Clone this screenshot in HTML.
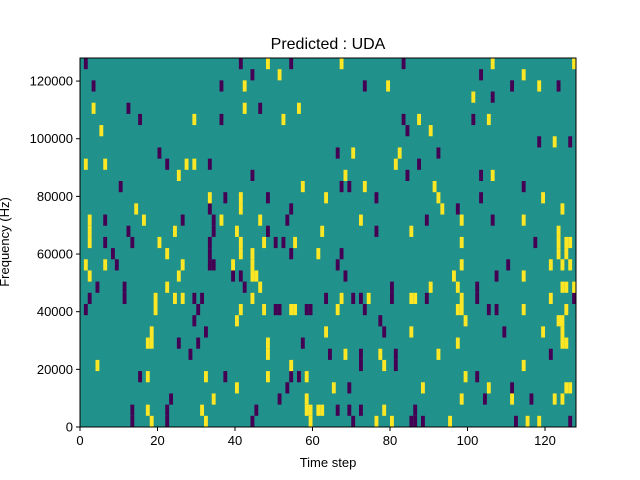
<!DOCTYPE html>
<html><head><meta charset="utf-8"><style>
html,body{margin:0;padding:0;background:#fff;}
svg{display:block;font-family:"Liberation Sans","DejaVu Sans",sans-serif;}
</style></head><body>
<svg id="chart" width="640" height="480" viewBox="0 0 640 480" xmlns="http://www.w3.org/2000/svg">
<rect width="640" height="480" fill="#fff"/>
<text x="328" y="49" font-size="16" text-anchor="middle">Predicted : UDA</text>
<g id="cells"></g>
<rect x="80" y="58" width="496" height="369" fill="none" stroke="#000" stroke-width="1"/>
<g id="xticks"></g>
<g id="yticks"></g>
<text x="328" y="467" font-size="13" text-anchor="middle">Time step</text>
<text transform="translate(9,242) rotate(-90)" font-size="13" text-anchor="middle">Frequency (Hz)</text>
</svg>
<script>
// Grid: 128 time steps x 33 frequency bins. Index 0 of these arrays = highest bin (32), last = bin 0.
const nTime = 128;
const nBins = 33;
const maxFreq = 128000;
const xTickValues = [0, 20, 40, 60, 80, 100, 120];
const yTickValues = [0, 20000, 40000, 60000, 80000, 100000, 120000];
const purpleByBinDesc = [
[1,41,54,83],[44,103],[3,36,73,111,123],[106],[12,46],[15,36,83,101],[84],[118,126],
[20,66,92],[22,33,87],[44,84,103],[10,67,69,114],[37,48,76,103],[33,54,97],
[6,26,34,53,89,106],[12,34,48,76],[6,13,33,50,52,117],[8,33,54,67],[9,33,34,66,110],
[39,41,68,107],[4,11,42,80,102],[2,11,29,31,63,70,72,80,89,102,127],
[1,30,50,51,58,59,73,105,107],[29,77],[32,78,109],[25,30,57],[28,64,72,81,121],[72,81],
[15,37,54,56,102],[53,69,111],[23,51,104,116],[13,22,45,66,69,72,86],
[13,22,44,70,85,86,88,112,126]
];
const yellowByBinDesc = [
[48,67,106,127],[51,114],[42,79,118],[101],[3,42,56],[29,52,87,105],[5,90],[122],
[70,82],[1,6,27,29,81],[25,68,106],[57,73,91],[33,41,63,92,119],[14,41,93,124],
[2,16,36,46,72,98,114],[2,24,40,62,85,123],[2,20,41,47,55,98,123,125,126],
[22,41,44,61,123,125],[1,6,26,39,44,98,121,124,126],[2,25,44,45,96,114],
[22,46,90,97,124,125,127],[19,24,26,44,67,74,85,86,98,121],
[19,41,47,54,55,66,97,98,114,125],[40,99,123,124],[18,63,85,119,124],[17,18,48,97,124,125],
[48,68,77,92],[4,54,78,114],[17,32,48,58,99],[40,65,88,105,125,126],[34,58,98,111,122,124],
[17,31,58,59,61,62,78],[18,32,59,76,80,95,115,118]
];
const NS = "http://www.w3.org/2000/svg";
const X0 = 80, X1 = 576, Y0 = 58, Y1 = 427;
function xScale(t){ return X0 + t / nTime * (X1 - X0); }
function binTop(b){ return Y1 - (b + 1) / nBins * (Y1 - Y0); }
function yFreq(f){ return Y1 - f / maxFreq * (Y1 - Y0); }
const cells = document.getElementById('cells');
const bg = document.createElementNS(NS, 'rect');
bg.setAttribute('x', X0); bg.setAttribute('y', Y0);
bg.setAttribute('width', X1 - X0); bg.setAttribute('height', Y1 - Y0);
bg.setAttribute('fill', '#21918c');


cells.appendChild(bg);
function drawCells(list, color, name){
  list.forEach(function(cols, i){
    const bin = nBins - 1 - i;
    cols.forEach(function(t){
      const r = document.createElementNS(NS, 'rect');
      r.setAttribute('x', xScale(t).toFixed(2));
      r.setAttribute('y', binTop(bin).toFixed(2));
      r.setAttribute('width', (xScale(t + 1) - xScale(t)).toFixed(2));
      r.setAttribute('height', (binTop(bin - 1) - binTop(bin)).toFixed(2));
      r.setAttribute('fill', color);
      
      
      cells.appendChild(r);
    });
  });
}
drawCells(purpleByBinDesc, '#440154', 'heatmap-cell-low');
drawCells(yellowByBinDesc, '#fde725', 'heatmap-cell-high');
const xg = document.getElementById('xticks');
xTickValues.forEach(function(v){
  const x = xScale(v);
  const l = document.createElementNS(NS, 'line');
  l.setAttribute('x1', x); l.setAttribute('x2', x); l.setAttribute('y1', Y1); l.setAttribute('y2', Y1 + 4);
  l.setAttribute('stroke', '#000');
  
  
  xg.appendChild(l);
  const tx = document.createElementNS(NS, 'text');
  tx.setAttribute('x', x); tx.setAttribute('y', Y1 + 18);
  tx.setAttribute('font-size', '13'); tx.setAttribute('text-anchor', 'middle');
  
  
  tx.textContent = v;
  xg.appendChild(tx);
});
const yg = document.getElementById('yticks');
yTickValues.forEach(function(v){
  const y = yFreq(v);
  const l = document.createElementNS(NS, 'line');
  l.setAttribute('x1', X0 - 4); l.setAttribute('x2', X0); l.setAttribute('y1', y); l.setAttribute('y2', y);
  l.setAttribute('stroke', '#000');
  
  
  yg.appendChild(l);
  const tx = document.createElementNS(NS, 'text');
  tx.setAttribute('x', X0 - 7); tx.setAttribute('y', y + 4.5);
  tx.setAttribute('font-size', '13'); tx.setAttribute('text-anchor', 'end');
  
  
  tx.textContent = v;
  yg.appendChild(tx);
});
</script>
</body></html>
